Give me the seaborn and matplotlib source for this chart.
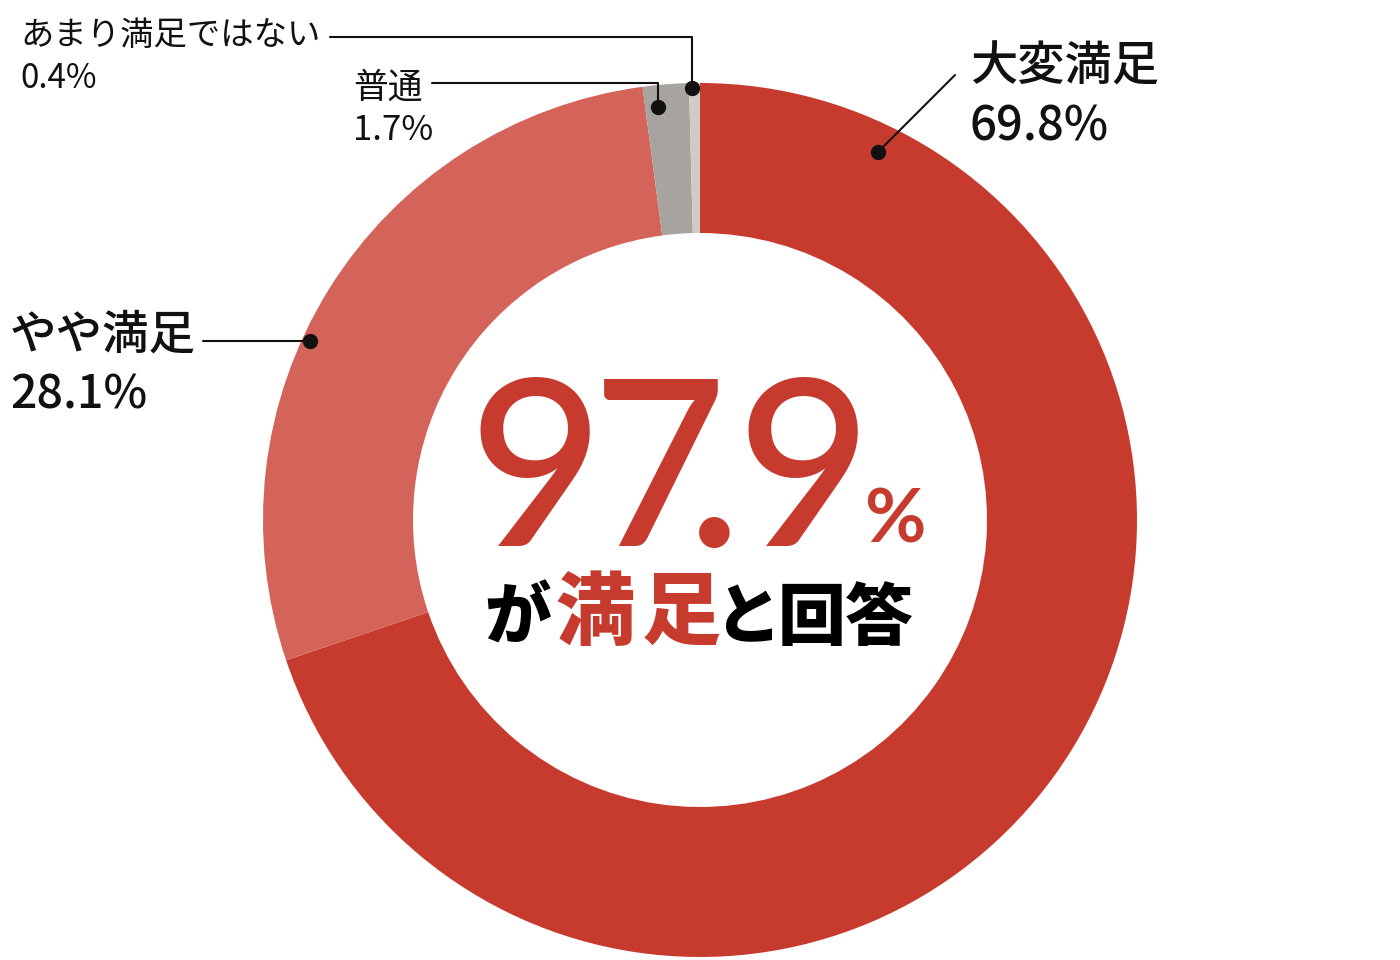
import matplotlib
matplotlib.use("Agg")
import matplotlib.pyplot as plt
import seaborn as sns

categories = ["大変満足", "やや満足", "普通", "あまり満足ではない"]
values = [69.8, 28.1, 1.7, 0.4]
labels_pct = ["69.8%", "28.1%", "1.7%", "0.4%"]
colors = ["#C73B2E", "#D4645A", "#A7A39F", "#CFCBC9"]
total_label = "97.9"
caption_chars = ["が", "満", "足", "と", "回", "答"]

sns.set_theme(style="white")
plt.rcParams['font.family'] = ['Noto Sans CJK JP', 'DejaVu Sans']

W, H = 1400, 960
fig = plt.figure(figsize=(14, 9.6), dpi=100)
ax = fig.add_axes([0, 0, 1, 1])

def Y(y):
    return H - y

cx, cy, R = 700, Y(520), 437
ax.pie(values, colors=colors, startangle=90, counterclock=False,
       center=(cx, cy), radius=R, wedgeprops=dict(width=150, linewidth=0),
       frame=True)
ax.set_xlim(0, W)
ax.set_ylim(0, H)
ax.set_aspect("equal")
ax.axis("off")

lc = "#111111"
# 大変満足
ax.text(970, Y(67), categories[0], fontsize=34, fontweight="medium", ha="left", va="center", color=lc)
ax.text(970, Y(127), labels_pct[0], fontsize=34, fontweight="medium", ha="left", va="center", color=lc)
ax.plot([955, 878], [Y(75), Y(152)], color=lc, lw=1.5)
ax.plot([878], [Y(152)], "o", color=lc, ms=10)

# やや満足
ax.text(10, Y(335), categories[1], fontsize=33.5, fontweight="medium", ha="left", va="center", color=lc)
ax.text(10, Y(395), labels_pct[1], fontsize=33.5, fontweight="medium", ha="left", va="center", color=lc)
ax.plot([203, 310], [Y(341), Y(341)], color=lc, lw=1.5)
ax.plot([310], [Y(341)], "o", color=lc, ms=10)

# 普通
ax.text(353, Y(88), categories[2], fontsize=25, ha="left", va="center", color=lc)
ax.text(353, Y(130), labels_pct[2], fontsize=25, ha="left", va="center", color=lc)
ax.plot([432, 658, 658], [Y(83), Y(83), Y(107)], color=lc, lw=1.5)
ax.plot([658], [Y(107)], "o", color=lc, ms=10)

# あまり満足ではない
ax.text(20, Y(35), categories[3], fontsize=24, ha="left", va="center", color=lc)
ax.text(20, Y(78), labels_pct[3], fontsize=24, ha="left", va="center", color=lc)
ax.plot([330, 692, 692], [Y(37), Y(37), Y(88)], color=lc, lw=1.5)
ax.plot([692], [Y(88)], "o", color=lc, ms=10)

# center big number, drawn glyph by glyph for tight spacing
red = "#C73B2E"
big_x = [536, 659, 714, 804]
for ch, x in zip(total_label, big_x):
    ax.text(x, Y(480), ch, fontsize=167, fontweight="medium", family=["Lato", "DejaVu Sans"],
            ha="center", va="center", color=red)
ax.text(895, Y(521), "%", fontsize=54, fontweight="bold", family=["Lato", "DejaVu Sans"],
        ha="center", va="center", color=red)

cap_x = [518, 595, 681, 748, 812, 879]
cap_col = ["#000000", red, red, "#000000", "#000000", "#000000"]
cap_size = [48, 57, 57, 48, 49, 49]
cap_y = [619, 614, 614, 619, 620, 620]
for ch, x, c, s, yy in zip(caption_chars, cap_x, cap_col, cap_size, cap_y):
    ax.text(x, Y(yy), ch, fontsize=s, fontweight="black", ha="center", va="center", color=c)

fig.savefig("out.png", dpi=100, facecolor="white")
